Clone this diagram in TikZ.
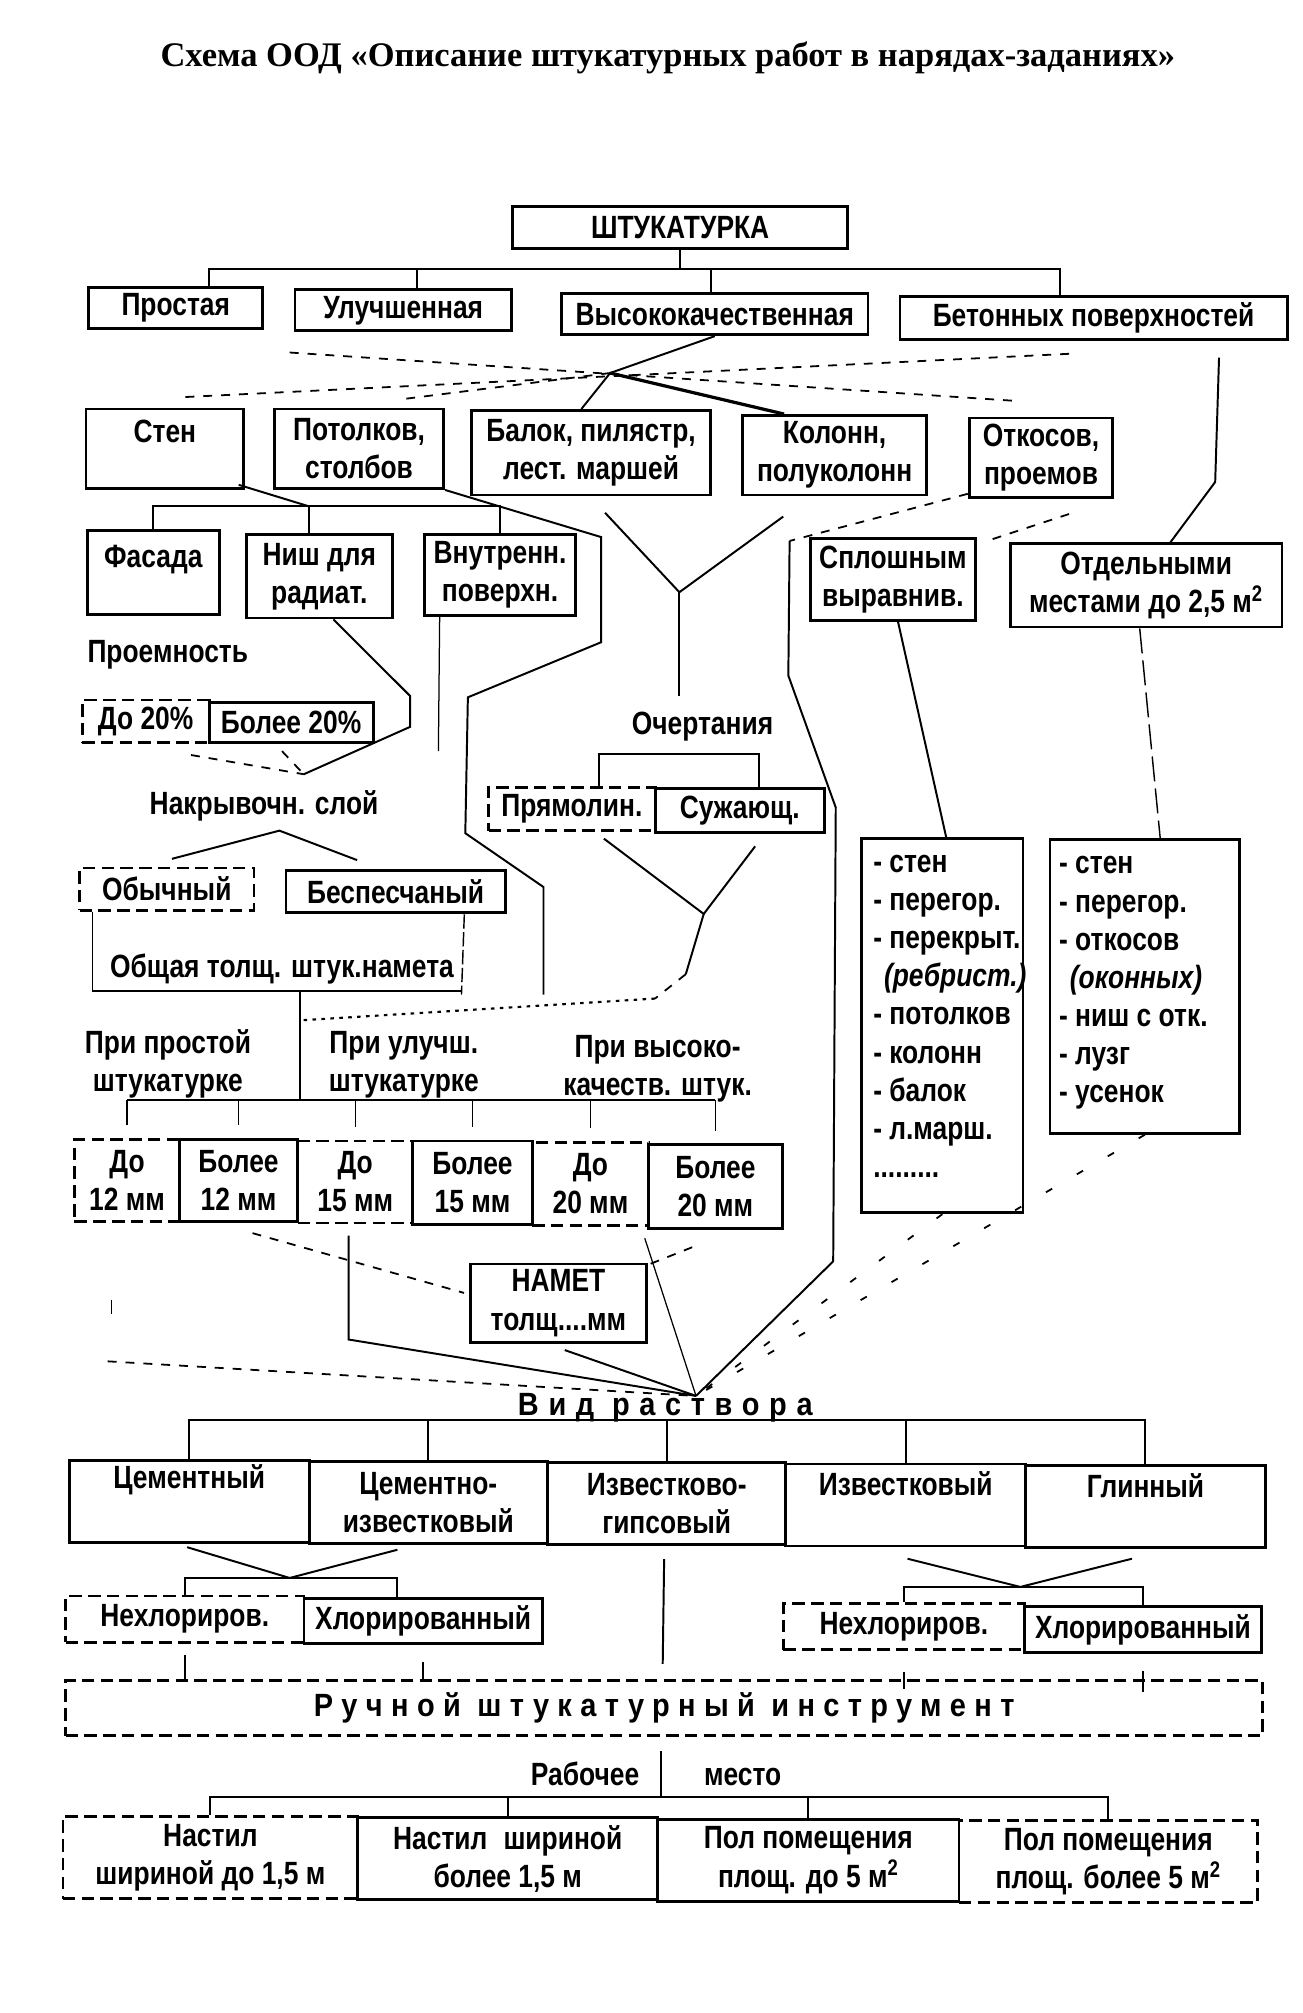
\documentclass[tikz,border=0pt]{standalone}
\usepackage{fontspec}
\setmainfont{Liberation Sans}[FakeStretch=0.82]
\newfontfamily\titlefont{Liberation Serif}
\newfontfamily\vidfont{Liberation Sans}[LetterSpace=30,FakeStretch=0.9]
\newfontfamily\ruchfont{Liberation Sans}[LetterSpace=26,FakeStretch=0.9]
\usetikzlibrary{calc}

\tikzset{
  box/.style={draw, line width=1.6pt, inner sep=0pt, align=center, font=\bfseries\fontsize{18}{21.3}\selectfont},
  dbox/.style={box, dash pattern=on 7pt off 3.5pt},
  txt/.style={inner sep=0pt, align=center, font=\bfseries\fontsize{18}{21.3}\selectfont},
  wire/.style={line width=1.1pt},
  fine/.style={line width=0.7pt},
  dwire/.style={line width=1pt, dash pattern=on 5pt off 5pt},
  dots/.style={line width=1.2pt, dash pattern=on 2pt off 3pt},
  sparse/.style={line width=1pt, dash pattern=on 4pt off 16pt},
}
% box from (x1,y1) to (x2,y2), y grows downwards
\newcommand\bx[7][box]{\node[#1, anchor=north west, minimum width={(#5-#3)*0.0252cm}, minimum height={(#6-#4)*0.0252cm}] (#2) at (#3,#4) {#7};}

\begin{document}
\begin{tikzpicture}[x=0.0252cm, y=-0.0252cm]
	%%%%% START %%%%%
	\useasboundingbox (0,0) rectangle (1015.9,1570.4);
	\node[font=\titlefont\bfseries\fontsize{19.3}{22}\selectfont] (title) at (521,45) {Схема ООД «Описание штукатурных работ в нарядах-заданиях»};
	
	% first level
	\bx{shtuk}{399}{160}{660}{193}{ШТУКАТУРКА}
	\bx{prost}{68}{223}{204}{255}{Простая}
	\bx{ulu}{229}{225}{398}{257}{Улучшенная}
	\bx{vys}{437}{228}{676}{260}{Высококачественная}
	\bx{beton}{701}{230}{1003}{264}{Бетонных поверхностей}
	
	\coordinate (t1) at (163,210);
	\coordinate (t2) at (325,210);
	\coordinate (t3) at (555,210);
	\coordinate (t4) at (827,210);
	\draw[wire] (shtuk.south) -- (shtuk.south |- t1);
	\draw[wire] (prost.north -| t1) -- (t1) -- (t4) -- (beton.north -| t4);
	\draw[wire] (ulu.north -| t2) -- (t2);
	\draw[wire] (vys.north -| t3) -- (t3);
	
	% second level
	\bx{sten}{66}{318}{189}{380}{Стен\\[-8pt] \strut}
	\bx{potol}{213}{318}{345}{380}{Потолков,\\столбов}
	\bx{balok}{367}{319}{553}{385}{Балок, пилястр,\\лест. маршей}
	\bx{kolon}{578}{323}{722}{385}{Колонн,\\полуколонн}
	\bx{otkos}{755}{325}{867}{387}{Откосов,\\проемов}
	
	\coordinate (x0) at (476,291);
	\coordinate (d1) at (226,275);
	\coordinate (d1b) at (796,313);
	\coordinate (d2) at (834,276);
	\coordinate (d2b) at (139,310);
	\coordinate (d3) at (317,311);
	\draw[wire] (vys.south) -- (x0) -- ($(balok.north west)!0.46!(balok.north east)$);
	\draw[line width=1.8pt] (x0) -- ($(kolon.north west)!0.23!(kolon.north east)$);
	\draw[dwire] (d1) -- (d1b);
	\draw[dwire] (d2) -- (d2b);
	\draw[dwire] (x0) -- (d3);
	
	% third level
	\bx{fas}{67}{413}{170}{478}{Фасада\\[-10pt] \strut}
	\bx{nish}{191}{416}{305}{481}{Ниш для\\радиат.}
	\bx{vnut}{330}{416}{448}{479}{Внутренн.\\поверхн.}
	\bx{splosh}{631}{419}{760}{483}{Сплошным\\выравнив.}
	\bx{otd}{787}{423}{999}{488}{Отдельными\\местами до 2,5 м\textsuperscript{2}}
	
	\coordinate (s0) at (241,395);
	\draw[wire] ($(sten.south east)+(-5,-4)$) -- (s0);
	\draw[wire] (fas.north) |- (s0) -| (vnut.north);
	\draw[wire] (s0) -- (nish.north -| s0);
	
	\coordinate (b1) at (951,279);
	\draw[wire] (b1) -- (948,376) -- ($(otd.north)+(19,0)$);
	
	\draw[wire] (potol.south east) -- (469,419) -- (469,501) -- (365,544) -- (363,650) -- (424,692) -- (424,776);
	
	\coordinate (v0) at (530,462);
	\coordinate (v1) at (472,400);
	\coordinate (v2) at (611,403);
	\coordinate (v3) at (530,543);
	\draw[wire] (v1) -- (v0) -- (v2);
	\draw[wire] (v0) -- (v3);
	
	\coordinate (o1) at (616,422);
	\coordinate (o2) at (834,401);
	\coordinate (o3) at (770,422);
	\draw[dwire] ($(otkos.south west)+(0,-4)$) -- (o1);
	\draw[dwire] (o2) -- (o3);
	
	% left branch
	\node[txt, anchor=west] (proem) at (68,511) {Проемность};
	\bx[dbox]{do20}{63}{545}{162}{578}{До 20\%}
	\bx{bol20}{162}{547}{290}{578}{Более 20\%}
	
	\coordinate (n0) at (237,604);
	\coordinate (q1) at (149,589);
	\coordinate (q2) at (220,586);
	\coordinate (q3) at (342,586);
	\draw[wire] ($(nish.south)+(11,0)$) -- (320,543) -- (320,567) -- (n0);
	\draw[dwire] (q1) -- (n0);
	\draw[dwire] (q2) -- (n0);
	\draw[fine] ($(vnut.south west)+(13,0)$) -- (q3);
	
	\node[txt] (nakr) at (206,629) {Накрывочн. слой};
	\bx[dbox]{obych}{61}{676}{197}{709}{Обычный}
	\bx{bespes}{222}{678}{393}{711}{Беспесчаный}
	\draw[wire] ($(obych.north)+(4,-6)$) -- (218,648) -- ($(bespes.north)+(-30,-7)$);
	
	\node[txt] (obsh) at (220,756) {Общая толщ. штук.намета};
	\coordinate (ob) at (234,773);
	\coordinate (ob2) at (234,796);
	\coordinate (pr0) at (234,858);
	\draw[fine] ($(obych.south west)+(11,0)$) -- (72,773) -- (360,773);
	\draw[line width=0.8pt, dash pattern=on 8pt off 2pt] ($(bespes.south east)+(-33,0)$) -- (360,776);
	\draw[wire] (ob) -- (pr0);
	
	% outline branch
	\node[txt] (ochert) at (548,567) {Очертания};
	\bx[dbox]{pryam}{380}{613}{510}{647}{Прямолин.}
	\bx{suzh}{510}{614}{642}{648}{Сужающ.}
	\coordinate (c1) at (467,588);
	\coordinate (c2) at (592,588);
	\coordinate (c3) at (549,713);
	\coordinate (c4) at (511,779);
	\draw[wire] (pryam.north -| c1) -- (c1) -- (c2) -- (suzh.north -| c2);
	\draw[wire] ($(pryam.south)+(25,5)$) -- (c3) -- ($(suzh.south)+(12,10)$);
	\draw[wire] (c3) -- (535,760);
	\draw[dwire] (535,760) -- (c4);
	\draw[dots] (c4) -- (ob2);
	
	% thickness
	\node[txt] (pr1) at (131,830) {При простой\\штукатурке};
	\node[txt] (pr2) at (315,831) {При улучш.\\штукатурке};
	\node[txt] (pr3) at (513,834) {При высоко-\\качеств. штук.};
	
	\bx[dbox]{mm1}{57}{888}{139}{952}{До\\12 мм}
	\bx{mm2}{139}{888}{231}{952}{Более\\12 мм}
	\bx[dbox]{mm3}{231}{889}{321}{953}{До\\15 мм}
	\bx{mm4}{321}{889}{414}{954}{Более\\15 мм}
	\bx[dbox]{mm5}{414}{890}{505}{955}{До\\20 мм}
	\bx{mm6}{505}{892}{609}{957}{Более\\20 мм}
	
	\draw[wire] (mm1.north |- pr0) -- (mm6.north |- pr0);
	\foreach \b in {mm1,mm2,mm3,mm4,mm5,mm6}
		\draw[fine] (\b.north |- pr0) -- ($(\b.north)+(0,-10)$);
	
	% lists
	\bx{lst1}{671}{653}{797}{945}{}
	\bx{lst2}{818}{654}{966}{883}{}
	\node[txt, anchor=north west, align=left] (lst1t) at (681,667) {\makebox[9pt][l]{-}стен\\\makebox[9pt][l]{-}перегор.\\\makebox[9pt][l]{-}перекрыт.\\\hspace*{6pt}\textit{(ребрист.)}\\\makebox[9pt][l]{-}потолков\\\makebox[9pt][l]{-}колонн\\\makebox[9pt][l]{-}балок\\\makebox[9pt][l]{-}л.марш.\\.........};
	\node[txt, anchor=north west, align=left] (lst2t) at (826,668) {\makebox[9pt][l]{-}стен\\\makebox[9pt][l]{-}перегор.\\\makebox[9pt][l]{-}откосов\\\hspace*{6pt}\textit{(оконных)}\\\makebox[9pt][l]{-}ниш с отк.\\\makebox[9pt][l]{-}лузг\\\makebox[9pt][l]{-}усенок};
	\draw[wire] ($(splosh.south)+(4,0)$) -- ($(lst1.north)+(3,0)$);
	\draw[line width=0.8pt, dash pattern=on 14pt off 4pt] ($(otd.south)+(-5,0)$) -- ($(lst2.north)+(12,0)$);
	
	% film
	\bx{namet}{366}{985}{503}{1046}{НАМЕТ\\толщ....мм}
	\coordinate (jr) at (543,1089);
	\coordinate (m1) at (197,962);
	\coordinate (m2) at (272,964);
	\coordinate (m3) at (503,966);
	\coordinate (m4) at (540,973);
	\coordinate (m5) at (84,1062);
	\coordinate (m6) at (87,1014);
	\draw[dwire] (m1) -- ($(namet.west)+(-4,-8)$);
	\draw[wire] (m2) -- (272,1045) -- (jr);
	\draw[fine] (m3) -- (jr);
	\draw[dwire] (m4) -- ($(namet.north east)+(2,1)$);
	\draw[wire] ($(namet.south)+(5,5)$) -- (jr);
	\draw[dwire] (m5) -- (jr);
	\draw[fine] (m6) -- ++(0,11);
	\draw[wire] (o1) -- (615,527) -- (652,630) -- (650,984) -- (jr);
	\draw[sparse] (lst1.south) -- (jr);
	\draw[sparse] (lst2.south) -- (jr);
	
	% mortar
	\node[txt, font=\vidfont\bfseries\fontsize{18}{21.3}\selectfont] (vid) at (519,1098) {Вид раствора};
	\bx{cem}{53}{1138}{240}{1202}{Цементный\\ \strut}
	\bx{cemizv}{240}{1139}{426}{1203}{Цементно-\\известковый}
	\bx{izvgips}{426}{1140}{612}{1204}{Известково-\\гипсовый}
	\bx{izv}{612}{1141}{799}{1205}{Известковый\\[-4pt] \strut}
	\bx{glin}{799}{1142}{986}{1206}{Глинный\\[-4pt] \strut}
	\coordinate (vb) at (520,1108);
	\draw[wire] (cem.north) |- (vb) -| (glin.north);
	\foreach \b in {cemizv,izvgips,izv}
		\draw[wire] (\b.north) -- (\b.north |- vb);
	
	\bx[dbox]{nehl1}{50}{1244}{236}{1280}{Нехлориров.}
	\bx{hlor1}{236}{1246}{422}{1281}{Хлорированный}
	\bx[dbox]{nehl2}{610}{1250}{798}{1286}{Нехлориров.}
	\bx{hlor2}{798}{1252}{983}{1288}{Хлорированный}
	\coordinate (h1) at (226,1231);
	\coordinate (h1a) at (146,1207);
	\coordinate (h1b) at (310,1209);
	\coordinate (h2) at (310,1231);
	\coordinate (h3) at (796,1238);
	\coordinate (h3a) at (708,1216);
	\coordinate (h3b) at (883,1216);
	\draw[wire] (h1a) -- (h1) -- (h1b);
	\draw[wire] (nehl1.north) |- (h2) -- (hlor1.north -| h2);
	\draw[wire] (h3a) -- (h3) -- (h3b);
	\draw[wire] (nehl2.north) |- (h3) -| (hlor2.north);
	
	% tools
	\bx[dbox, font=\ruchfont\bfseries\fontsize{18}{21.3}\selectfont]{ruch}{50}{1310}{984}{1353}{Ручной штукатурный инструмент}
	\coordinate (r0) at (517,1298);
	\draw[wire] ($(izvgips.south)+(-2,10)$) -- (r0);
	\draw[wire] ($(nehl1.south)+(0,9)$) -- (ruch.north -| nehl1.south);
	\draw[wire] ($(hlor1.south)+(0,13)$) -- (ruch.north -| hlor1.south);
	\draw[wire] ($(nehl2.south)+(0,16)$) -- ($(ruch.north -| nehl2.south)+(0,8)$);
	\draw[wire] ($(hlor2.south)+(0,13)$) -- ($(ruch.north -| hlor2.south)+(0,10)$);
	
	% workplace
	\node[txt, anchor=east] (rab) at (499,1384) {Рабочее};
	\node[txt, anchor=west] (mesto) at (549,1386) {место};
	\coordinate (rt) at (516,1366);
	\coordinate (rb) at (516,1402);
	\draw[wire] (rt) -- (rb);
	\bx[dbox]{nast1}{48}{1416}{278}{1480}{Настил\\шириной до 1,5 м}
	\bx{nast2}{278}{1417}{512}{1481}{Настил\enspace шириной\\более 1,5 м}
	\bx{pol1}{512}{1418}{747}{1482}{Пол помещения\\площ. до 5 м\textsuperscript{2}}
	\bx[dbox]{pol2}{747}{1419}{980}{1483}{Пол помещения\\площ. более 5 м\textsuperscript{2}}
	\draw[wire] (nast1.north) |- (rb) -| (pol2.north);
	\foreach \b in {nast2,pol1}
		\draw[wire] (\b.north) -- (\b.north |- rb);
	
	%%%%% END %%%%%
\end{tikzpicture}
\end{document}
